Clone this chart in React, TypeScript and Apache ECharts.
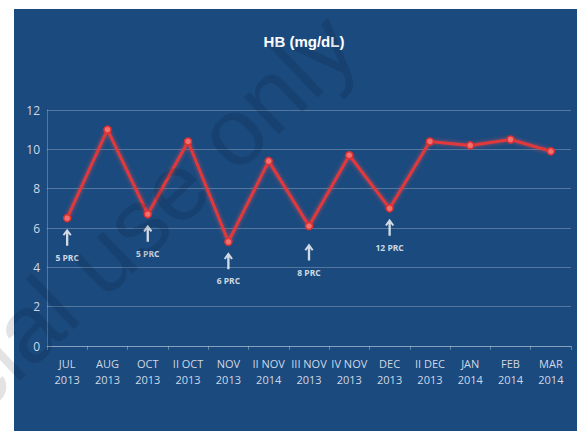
import React, { useEffect, useRef } from "react";
import * as echarts from "echarts";

const categories = [
  "JUL\n2013", "AUG\n2013", "OCT\n2013", "II OCT\n2013", "NOV\n2013", "II NOV\n2014",
  "III NOV\n2013", "IV NOV\n2013", "DEC\n2013", "II DEC\n2013", "JAN\n2014", "FEB\n2014", "MAR\n2014",
];
const hbValues = [6.5, 11.0, 6.7, 10.4, 5.3, 9.4, 6.1, 9.7, 7.0, 10.4, 10.2, 10.5, 9.9];
const transfusionCategories = ["JUL\n2013", "OCT\n2013", "NOV\n2013", "III NOV\n2013", "DEC\n2013"];
const transfusionLabels = ["5 PRC", "5 PRC", "6 PRC", "8 PRC", "12 PRC"];
const yTicks = { min: 0, max: 12, interval: 2 };
const titleText = "HB (mg/dL)";
const watermarkText = "Non-commercial use only";

const ARROW = "path://M5,0 L10,6.5 L8.2,7.6 L6.3,5.2 L6.3,18 L3.7,18 L3.7,5.2 L1.8,7.6 L0,6.5 Z";

export default function App() {
  const ref = useRef<HTMLDivElement>(null);
  useEffect(() => {
    if (!ref.current) return;
    const chart = echarts.init(ref.current, undefined, { renderer: "svg" });
    const drop = (cat: string) => (cat.startsWith("III NOV") ? 7 : 0);
    const annot = transfusionCategories.map((cat, i) => {
      const v = hbValues[categories.indexOf(cat)];
      return { cat, v, text: transfusionLabels[i], d: drop(cat) };
    });
    const labelColor = "#d0d8e6";
    chart.setOption({
      animation: false,
      backgroundColor: "#ffffff",
      graphic: [
        {
          type: "rect",
          shape: { x: 14, y: 9, width: 563, height: 422 },
          style: { fill: "#1a4a7e" },
          z: -10,
          silent: true,
        },
        {
          type: "text",
          x: 340,
          y: 30,
          rotation: 0.76,
          z: 100,
          silent: true,
          style: {
            text: watermarkText,
            fill: "rgba(0,0,0,0.11)",
            font: "96px 'Liberation Sans', Arial, sans-serif",
            textAlign: "right",
            textVerticalAlign: "middle",
          },
        },
      ],
      title: {
        text: titleText,
        left: 299,
        top: 29,
        textAlign: "center",
        textStyle: {
          color: "#ffffff",
          fontSize: 15,
          fontWeight: "bold",
          fontFamily: "'Liberation Sans', Arial, sans-serif",
        },
      },
      grid: { left: 47, right: 6, top: 110, bottom: 85, containLabel: false },
      xAxis: {
        type: "category",
        data: categories,
        boundaryGap: true,
        axisLine: { show: true, lineStyle: { color: "rgba(255,255,255,0.3)", width: 1 } },
        axisTick: { show: true, length: 4, lineStyle: { color: "rgba(255,255,255,0.3)" } },
        axisLabel: {
          color: labelColor,
          fontSize: 11,
          fontFamily: "'Open Sans', sans-serif",
          lineHeight: 16,
          margin: 9,
          interval: 0,
        },
      },
      yAxis: {
        type: "value",
        min: yTicks.min,
        max: yTicks.max,
        interval: yTicks.interval,
        axisLine: { show: true, lineStyle: { color: "rgba(255,255,255,0.25)" } },
        axisTick: { show: false },
        splitLine: { show: true, lineStyle: { color: "rgba(255,255,255,0.25)", width: 1 } },
        axisLabel: {
          color: labelColor,
          fontSize: 12,
          fontFamily: "'Open Sans', sans-serif",
          margin: 7,
        },
      },
      series: [
        {
          type: "scatter",
          name: "arrows",
          symbol: ARROW,
          symbolSize: [9, 17],
          itemStyle: { color: "#ffffff" },
          z: 3,
          data: annot.map((a) => ({
            value: [a.cat, a.v],
            symbolOffset: [0, 19 + a.d],
          })),
          silent: true,
        },
        {
          type: "scatter",
          name: "labels",
          symbolSize: 1,
          itemStyle: { color: "rgba(0,0,0,0)" },
          z: 3,
          data: annot.map((a) => ({
            name: a.text,
            value: [a.cat, a.v],
            label: { offset: [0, 39 + a.d] },
          })),
          label: {
            show: true,
            position: "inside",
            formatter: "{b}",
            color: "#ffffff",
            fontSize: 8.5,
            fontWeight: "bold",
            fontFamily: "'Open Sans', sans-serif",
          },
          silent: true,
        },
        {
          type: "line",
          name: "HB",
          data: hbValues,
          z: 5,
          symbol: "circle",
          symbolSize: 7,
          lineStyle: {
            color: "#e0383a",
            width: 3,
            shadowColor: "rgba(255,80,80,0.6)",
            shadowBlur: 4,
          },
          itemStyle: { color: "#f07070", borderColor: "#e0302f", borderWidth: 1.5 },
        },
      ],
    });
    return () => chart.dispose();
  }, []);
  return (
    <div
      ref={ref}
      style={{ position: "absolute", left: 0, top: 0, width: 577, height: 431 }}
    />
  );
}
